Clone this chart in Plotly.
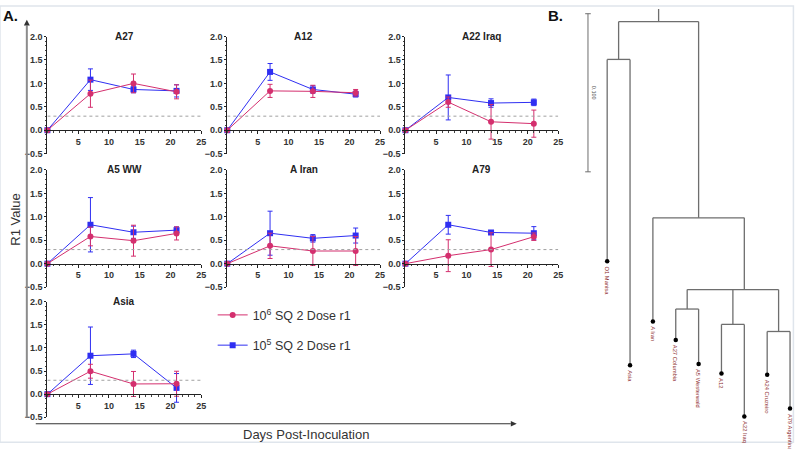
import plotly.graph_objects as go

# ---------------- data: panel A ----------------
days = [0, 7, 14, 21]
strains = ["A27", "A12", "A22 Iraq", "A5 WW", "A Iran", "A79", "Asia"]

# 10^6 SQ 2 Dose r1 (pink) means / SD
hi_A27 = [0, 0.78, 1.00, 0.82];   hi_A27_sd = [0, 0.29, 0.20, 0.15]
hi_A12 = [0, 0.84, 0.83, 0.80];   hi_A12_sd = [0, 0.14, 0.13, 0.07]
hi_A22 = [0, 0.60, 0.18, 0.14];   hi_A22_sd = [0, 0.11, 0.37, 0.29]
hi_A5 = [0, 0.58, 0.49, 0.645];   hi_A5_sd = [0, 0.20, 0.33, 0.14]
hi_AIr = [0, 0.38, 0.27, 0.27];   hi_AIr_sd = [0, 0.27, 0.31, 0.31]
hi_A79 = [0, 0.17, 0.30, 0.575];  hi_A79_sd = [0, 0.34, 0.36, 0.08]
hi_Asia = [0, 0.495, 0.22, 0.225]; hi_Asia_sd = [0, 0.15, 0.27, 0.27]

# 10^5 SQ 2 Dose r1 (blue) means / SD
lo_A27 = [0, 1.08, 0.87, 0.84];   lo_A27_sd = [0, 0.23, 0.07, 0.13]
lo_A12 = [0, 1.245, 0.87, 0.77];  lo_A12_sd = [0, 0.18, 0.08, 0.06]
lo_A22 = [0, 0.70, 0.58, 0.595];  lo_A22_sd = [0, 0.48, 0.09, 0.07]
lo_A5 = [0, 0.83, 0.67, 0.715];   lo_A5_sd = [0, 0.58, 0.13, 0.07]
lo_AIr = [0, 0.65, 0.54, 0.60];   lo_AIr_sd = [0, 0.47, 0.08, 0.16]
lo_A79 = [0, 0.83, 0.665, 0.65];  lo_A79_sd = [0, 0.20, 0.03, 0.14]
lo_Asia = [0, 0.83, 0.87, 0.135]; lo_Asia_sd = [0, 0.62, 0.08, 0.31]

threshold = 0.3
x_ticks = [5, 10, 15, 20, 25]
y_ticks = [-0.5, 0, 0.5, 1.0, 1.5, 2.0]
series_names = ["10<sup>6</sup> SQ 2 Dose r1", "10<sup>5</sup> SQ 2 Dose r1"]

# ---------------- data: panel B (dendrogram) ----------------
leaf_names = ["O1 Manisa", "Asia", "A Iran", "A27 Columbia", "A5 Westerwald",
              "A12", "A22 Iraq", "A24 Cruzeiro", "A79 Argentina"]
leaf_depth = [0.1515, 0.2173, 0.1897, 0.2014, 0.2166, 0.2226, 0.2497, 0.2234, 0.2447]
node_names = ["root", "n1", "n2", "n3", "n4", "n5", "n6"]
node_depth = [0.0, 0.0239, 0.1241, 0.1695, 0.1818, 0.1915, 0.1960]
node_children = [["n1", "n2"], [0, 1], [2, "n3"], ["n4", "n5", "n6"], [3, 4], [5, 6], [7, 8]]
node_attach = [None, None, None, 6.0, None, None, None]
root_branch = 0.008
scale_len = 0.100

hi_means = [hi_A27, hi_A12, hi_A22, hi_A5, hi_AIr, hi_A79, hi_Asia]
hi_sds = [hi_A27_sd, hi_A12_sd, hi_A22_sd, hi_A5_sd, hi_AIr_sd, hi_A79_sd, hi_Asia_sd]
lo_means = [lo_A27, lo_A12, lo_A22, lo_A5, lo_AIr, lo_A79, lo_Asia]
lo_sds = [lo_A27_sd, lo_A12_sd, lo_A22_sd, lo_A5_sd, lo_AIr_sd, lo_A79_sd, lo_Asia_sd]

# ---------------- styling / layout ----------------
W, H = 800, 449
PINK = "#D42F6E"
BLUE = "#2F2FF2"
FONT = "Liberation Sans"
col_px = [(47.7, 202.4), (228.7, 382.5), (408.0, 561.8)]
row_px = [(32.3, 152.0), (168.7, 288.5), (303.3, 421.7)]


def px(xp, yp):
    return xp / W, 1 - yp / H


fig = go.Figure()
layout = dict(width=W, height=H, margin=dict(l=0, r=0, t=0, b=0),
              paper_bgcolor="white", plot_bgcolor="rgba(0,0,0,0)",
              showlegend=True)
annotations = []
shapes = []

for i, name in enumerate(strains):
    k = i + 1
    r, c = divmod(i, 3)
    x0p, x1p = col_px[c]
    topp, botp = row_px[r]
    xdom = [x0p / W, x1p / W]
    ydom = [1 - botp / H, 1 - topp / H]
    zero_pos = ydom[0] + (0 - y_ticks[0]) / (y_ticks[-1] - y_ticks[0]) * (ydom[1] - ydom[0])
    tickfont = dict(family=FONT, size=9, color="#333", weight="bold")
    layout[f"xaxis{k}"] = dict(
        domain=xdom, range=[0, 25], anchor="free", position=zero_pos,
        showline=True, linecolor="#222", linewidth=1,
        ticks="outside", ticklen=3, tickcolor="#222", tickvals=x_ticks,
        tickfont=tickfont, showgrid=False, zeroline=False, fixedrange=True,
        minor=dict(ticks="outside", ticklen=1.5, dtick=1, tick0=0, tickcolor="#444"))
    layout[f"yaxis{k}"] = dict(
        domain=ydom, range=[y_ticks[0], y_ticks[-1]], anchor=f"x{k}",
        showline=True, linecolor="#222", linewidth=1,
        ticks="outside", ticklen=2, tickcolor="#222", tickvals=y_ticks,
        tickformat=".1f", tickfont=tickfont, showgrid=False, zeroline=False,
        fixedrange=True, ticklabelstandoff=0,
        minor=dict(ticks="outside", ticklen=1.5, dtick=0.1, tick0=0, tickcolor="#444"))
    shapes.append(dict(type="line", xref=f"x{k}", yref=f"y{k}", x0=0, x1=25,
                       y0=threshold, y1=threshold,
                       line=dict(color="#a0a0a0", width=1, dash="dot")))
    annotations.append(dict(xref=f"x{k}", yref=f"y{k}", x=12.5, y=2.0,
                            text=f"<b>{name}</b>", showarrow=False,
                            font=dict(family=FONT, size=10, color="#222"),
                            xanchor="center", yanchor="middle"))
    fig.add_trace(go.Scatter(
        x=days, y=lo_means[i], mode="lines+markers",
        error_y=dict(type="data", array=lo_sds[i], color=BLUE, thickness=1, width=2.5),
        marker=dict(symbol="square", size=6, color=BLUE),
        line=dict(color=BLUE, width=1), xaxis=f"x{k}", yaxis=f"y{k}",
        name=series_names[1], legendgroup="lo", legendrank=2,
        showlegend=(k == 1), cliponaxis=False))
    fig.add_trace(go.Scatter(
        x=days, y=hi_means[i], mode="lines+markers",
        error_y=dict(type="data", array=hi_sds[i], color=PINK, thickness=1, width=2.5),
        marker=dict(symbol="circle", size=6, color=PINK),
        line=dict(color=PINK, width=1), xaxis=f"x{k}", yaxis=f"y{k}",
        name=series_names[0], legendgroup="hi", legendrank=1,
        showlegend=(k == 1), cliponaxis=False))

# ---------------- dendrogram ----------------
LEAF0_PX, LEAF_STEP_PX = 611.0, 23.0
ROOT_PX, DEPTH_PX = 17.0, 1617.0
layout["xaxis8"] = dict(domain=[0, 1], range=[-LEAF0_PX / LEAF_STEP_PX, (W - LEAF0_PX) / LEAF_STEP_PX],
                        visible=False, fixedrange=True, anchor="y8")
layout["yaxis8"] = dict(domain=[0, 1], range=[(H - ROOT_PX) / DEPTH_PX, -ROOT_PX / DEPTH_PX],
                        visible=False, fixedrange=True, anchor="x8")

node_index = {n: j for j, n in enumerate(node_names)}
pos_cache = {}


def node_pos(ref):
    if isinstance(ref, int):
        return float(ref), leaf_depth[ref]
    j = node_index[ref]
    if ref in pos_cache:
        return pos_cache[ref]
    xs = [node_pos(ch)[0] for ch in node_children[j]]
    xpos = node_attach[j] if node_attach[j] is not None else (min(xs) + max(xs)) / 2
    pos_cache[ref] = (xpos, node_depth[j])
    return pos_cache[ref]


lx, ly = [], []
for j, n in enumerate(node_names):
    nx, nd = node_pos(n)
    cx = [node_pos(ch)[0] for ch in node_children[j]]
    lx += [min(cx), max(cx), None]
    ly += [nd, nd, None]
    for ch in node_children[j]:
        chx, chd = node_pos(ch)
        lx += [chx, chx, None]
        ly += [nd, chd, None]
rx, rd = node_pos("root")
lx += [rx, rx, None]
ly += [rd - root_branch, rd, None]

fig.add_trace(go.Scatter(x=lx, y=ly, mode="lines", line=dict(color="#6e6e6e", width=1.3),
                         xaxis="x8", yaxis="y8", showlegend=False, hoverinfo="skip"))
fig.add_trace(go.Scatter(x=list(range(len(leaf_names))), y=leaf_depth, mode="markers",
                         marker=dict(color="black", size=4.5), xaxis="x8", yaxis="y8",
                         showlegend=False, hoverinfo="skip"))
for i, nm in enumerate(leaf_names):
    annotations.append(dict(xref="x8", yref="y8", x=i, y=leaf_depth[i], text=nm,
                            textangle=90, showarrow=False, xanchor="center", yanchor="top",
                            yshift=-3, font=dict(family=FONT, size=5.8, color="#8B2A2A")))

# scale bar
sb_x = -0.84
sb_y0 = -0.005
fig.add_trace(go.Scatter(x=[sb_x, sb_x], y=[sb_y0, sb_y0 + scale_len], mode="lines+markers",
                         line=dict(color="#6e6e6e", width=1),
                         marker=dict(symbol="line-ew", size=4, line=dict(color="#6e6e6e", width=1)),
                         xaxis="x8", yaxis="y8", showlegend=False, hoverinfo="skip"))
annotations.append(dict(xref="x8", yref="y8", x=sb_x, y=sb_y0 + scale_len / 2,
                        text=f"{scale_len:.3f}", textangle=90, showarrow=False,
                        xanchor="left", yanchor="middle", xshift=1,
                        font=dict(family=FONT, size=5.5, color="#555")))

# ---------------- panel decorations ----------------
ax_, ay_ = px(11, 11)
bx_, by_ = px(559, 11)
rx_, ry_ = px(16, 218.7)
dx_, dy_ = px(308, 439)
annotations += [
    dict(xref="paper", yref="paper", x=ax_, y=ay_, text="<b>A.</b>", xanchor="center",
         yanchor="middle", showarrow=False, font=dict(family=FONT, size=15, color="#111")),
    dict(xref="paper", yref="paper", x=bx_, y=by_, text="<b>B.</b>", xanchor="center",
         yanchor="middle", showarrow=False, font=dict(family=FONT, size=15, color="#111")),
    dict(xref="paper", yref="paper", x=rx_, y=ry_, text="R1 Value", xanchor="center",
         yanchor="middle", textangle=-90, showarrow=False,
         font=dict(family=FONT, size=13, color="#333")),
    dict(xref="paper", yref="paper", x=dx_, y=dy_, text="Days Post-Inoculation",
         xanchor="center", yanchor="middle", showarrow=False,
         font=dict(family=FONT, size=13, color="#333")),
]

# big axis arrows (vertical gray, horizontal dark)
v0 = px(27, 422); v1 = px(27, 21)
shapes.append(dict(type="line", xref="paper", yref="paper", x0=v0[0], y0=v0[1], x1=v1[0], y1=v1[1],
                   line=dict(color="#8c8c8c", width=2)))
t1, t2, t3 = px(24, 21), px(30, 21), px(27, 15)
shapes.append(dict(type="path", xref="paper", yref="paper",
                   path=f"M {t1[0]} {t1[1]} L {t2[0]} {t2[1]} L {t3[0]} {t3[1]} Z",
                   fillcolor="#333", line=dict(width=0)))
h0 = px(36, 428.3); h1 = px(514, 428.3)
shapes.append(dict(type="line", xref="paper", yref="paper", x0=h0[0], y0=h0[1], x1=h1[0], y1=h1[1],
                   line=dict(color="#333", width=1.2)))
a1, a2, a3 = px(514, 425.5), px(514, 431.1), px(520, 428.3)
shapes.append(dict(type="path", xref="paper", yref="paper",
                   path=f"M {a1[0]} {a1[1]} L {a2[0]} {a2[1]} L {a3[0]} {a3[1]} Z",
                   fillcolor="#333", line=dict(width=0)))
shapes.append(dict(type="rect", xref="paper", yref="paper", x0=0, y0=0.004, x1=0.998, y1=0.998,
                   line=dict(color="#dfe5ec", width=1.5)))

layout["annotations"] = annotations
layout["shapes"] = shapes
lg = px(214, 302)
layout["legend"] = dict(x=lg[0], y=lg[1], xanchor="left", yanchor="top",
                        font=dict(family=FONT, size=12.5, color="#333"),
                        tracegroupgap=11, bgcolor="rgba(0,0,0,0)", itemwidth=30,
                        traceorder="grouped")
fig.update_layout(**layout)
fig.write_html("out.html")
